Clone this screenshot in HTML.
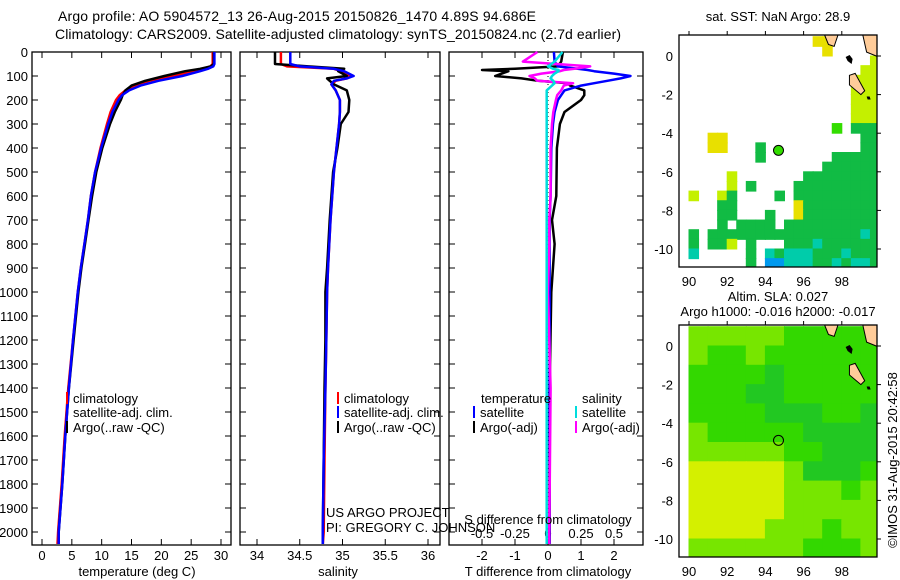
<!DOCTYPE html>
<html><head><meta charset="utf-8"><style>
html,body{margin:0;padding:0;background:#fff}
svg{display:block;font-family:"Liberation Sans",sans-serif}
text{fill:#000}
</style></head><body>
<svg id="s" width="900" height="580" viewBox="0 0 900 580">
<text x="297" y="21" font-size="14" text-anchor="middle" textLength="478">Argo profile: AO 5904572_13 26-Aug-2015 20150826_1470 4.89S 94.686E</text>
<text x="338" y="39" font-size="14" text-anchor="middle" textLength="566">Climatology: CARS2009. Satellite-adjusted climatology: synTS_20150824.nc (2.7d earlier)</text>
<g id="g"></g>
<text x="137" y="576" font-size="13" text-anchor="middle">temperature (deg C)</text>
<text x="338" y="576" font-size="13" text-anchor="middle">salinity</text>
<text x="548" y="576" font-size="13" text-anchor="middle">T difference from climatology</text>
<text x="548" y="524" font-size="13" text-anchor="middle">S difference from climatology</text>
<text x="326" y="517" font-size="13">US ARGO PROJECT</text>
<text x="326" y="532" font-size="13">PI: GREGORY C. JOHNSON</text>
<text x="778" y="21" font-size="13" text-anchor="middle">sat. SST: NaN Argo: 28.9</text>
<text x="778" y="301" font-size="13" text-anchor="middle">Altim. SLA: 0.027</text>
<text x="778" y="316" font-size="13" text-anchor="middle">Argo h1000: -0.016 h2000: -0.017</text>
<text x="0" y="0" font-size="13" text-anchor="middle" transform="translate(897,460) rotate(-90)">©IMOS 31-Aug-2015 20:42:58</text>
</svg>
<script>
// ---- profile data ----
const depthT=[0,50,60,70,80,100,120,140,160,180,200,250,300,400,500,600,700,800,900,1000,1200,1400,1600,1800,2000,2050];
const tClim=[28.6,28.6,28.2,27,25.5,22,18,15.5,14,13,12.4,11.5,10.9,9.8,8.9,8.2,7.7,7.1,6.5,6.0,5.2,4.4,3.8,3.3,2.7,2.6];
const tSat=[28.9,28.9,28.7,27.8,26.5,23.5,19.5,16.5,14.6,13.4,12.8,11.8,11.1,9.9,8.9,8.2,7.7,7.1,6.5,6.0,5.2,4.5,3.9,3.4,2.8,2.8];
const tArgo=[28.8,28.8,28.3,26.5,24,20.5,17.3,15,14,13.5,13.2,12.2,11.4,10.1,9.1,8.4,7.8,7.2,6.6,6.1,5.3,4.5,3.9,3.4,2.8,2.8];
const depthS=[0,50,60,70,80,100,110,120,135,160,200,250,300,400,500,700,900,1000,1200,1400,1700,2000,2050];
const sClim=[34.28,34.28,34.35,34.9,34.98,35.1,35.05,34.92,34.87,34.92,34.97,34.97,34.96,34.93,34.9,34.86,34.83,34.82,34.81,34.8,34.79,34.78,34.77];
const sSat=[34.39,34.39,34.5,34.9,35.02,35.13,35.05,34.9,34.87,34.92,34.97,34.97,34.96,34.93,34.9,34.86,34.83,34.82,34.81,34.8,34.78,34.77,34.77];
const sArgo=[34.21,34.21,34.6,35.02,34.95,35.05,34.82,34.85,34.9,35.05,35.08,35.07,34.98,34.94,34.89,34.85,34.82,34.8,34.8,34.79,34.78,34.77,34.77];
const depthD=[0,40,60,70,75,80,90,100,110,120,130,140,160,180,200,250,300,400,600,700,800,1000,1400,2000,2050];
const dTSat=[0.18,0.2,0.3,0.9,1.2,1.4,2.0,2.5,2.2,1.8,1.4,1.0,0.5,0.4,0.3,0.2,0.15,0.1,0.08,0.05,0.05,0.05,0.05,0.05,0.05];
const dTArgo=[0.45,0.4,0.3,-1.0,-2.0,-1.2,-1.4,-1.6,-0.8,-0.3,0.6,0.67,1.1,1.1,1.0,0.5,0.36,0.27,0.25,0.12,0.2,0.1,0.05,0.05,0.05];
const dSSat=[0.11,0.05,0,0.04,0.08,0.08,0.05,0.03,0.02,0.04,0.05,0.03,-0.01,-0.01,-0.01,-0.01,-0.01,-0.01,-0.01,-0.01,-0.01,-0.01,-0.01,-0.01,-0.01];
const dSArgo=[-0.08,-0.19,0.32,0.2,0.12,0.09,-0.05,-0.14,-0.1,-0.08,0.19,0.12,0.1,0.07,0.06,0.04,0.03,0.02,0.02,0.01,0.01,0.0,0.02,0.01,0.01];
const depthTicks=[0,100,200,300,400,500,600,700,800,900,1000,1100,1200,1300,1400,1500,1600,1700,1800,1900,2000];
const tTicks=[0,5,10,15,20,25,30];
const sTicks=[34,34.5,35,35.5,36];
const dTTicks=[-2,-1,0,1,2];
const dSTicks=[-0.5,-0.25,0,0.25,0.5];
// ---- map data ----
const lonTicks=[90,92,94,96,98];
const latTicks=[0,-2,-4,-6,-8,-10];
const sstRows=[
".............yy.....","..............y.....","...................l","..................ll",
".................lll",".................lll",".................lll",".................lll",
".................lll","...............G.ggg","..yy..............gg","..yy...g..........gg",
".......g.......ggggg","..............gggggg","....l.......gggggggg","....l.g....ggggggggg",
"l..lg....g.ggggggggg","...gg......ygggggggg","...gg...g..ygggggggg","...g.gggg.gggggggggg",
"g.ggggggggggggggggcg","g.ggl.g...gggcgggggg","c.....g.cgcccgggcggg","......g.bbcccggcgccg"];
const slaRows=[
"lllllggggg","lgglgggggg","ggggdggggg","gggddggggg","ggggdddggd","lgggggdddd",
"lllllggddd","yyyyyldddg","yyyyylllgl","yyyyylllll","yyyylllgll","llllllgggl"];
const NS="http://www.w3.org/2000/svg";
const G=document.getElementById('g');
function mk(tag,at,parent){const e=document.createElementNS(NS,tag);for(const k in at)e.setAttribute(k,at[k]);(parent||G).appendChild(e);return e;}
const Y0=52,Y1=545;
const yD=d=>Y0+d*0.24;
const xT=v=>42+v*5.967;
const xS=v=>257+(v-34)*85.5;
const xDT=v=>548+v*33;
const xDS=v=>548+v*132;
function panel(x0,x1,name,xs,ticks,withLabels){
  const r=mk('rect',{x:x0,y:Y0,width:x1-x0,height:Y1-Y0,fill:'none',stroke:'#000','stroke-width':1.3});
  
  
  depthTicks.forEach(d=>{
    mk('line',{x1:x0,x2:x0+6,y1:yD(d),y2:yD(d),stroke:'#000'});
    mk('line',{x1:x1-6,x2:x1,y1:yD(d),y2:yD(d),stroke:'#000'});
    if(withLabels){const t=mk('text',{x:28,y:yD(d)+5,'font-size':13,'text-anchor':'end'});t.textContent=d;
      
      }
  });
  ticks.forEach(v=>{
    mk('line',{x1:xs(v),x2:xs(v),y1:Y0,y2:Y0+6,stroke:'#000'});
    mk('line',{x1:xs(v),x2:xs(v),y1:Y1-6,y2:Y1,stroke:'#000'});
    const t=mk('text',{x:xs(v),y:560,'font-size':13,'text-anchor':'middle'});t.textContent=v;
    
    
  });
}
function line(ds,vs,xs,color,name,w){
  const p=ds.map((d,i)=>xs(vs[i]).toFixed(1)+','+yD(d).toFixed(1)).join(' ');
  const e=mk('polyline',{points:p,fill:'none',stroke:color,'stroke-width':w||2.5,'stroke-linejoin':'round'});
  
  
}
panel(32,231,'temperature-panel',xT,tTicks,true);
panel(240,440,'salinity-panel',xS,sTicks,false);
panel(449,643,'difference-panel',xDT,dTTicks,false);
dSTicks.forEach(v=>{const t=mk('text',{x:xDS(v),y:538,'font-size':13,'text-anchor':'middle'});t.textContent=v;
  
  });
mk('line',{x1:xDT(0),x2:xDT(0),y1:Y0,y2:Y1,stroke:'#000','stroke-dasharray':'1,3'});
line(depthT,tClim,xT,'#f00','temperature-climatology-line');
line(depthT,tArgo,xT,'#000','temperature-argo-line');
line(depthT,tSat,xT,'#00f','temperature-satellite-line');
line(depthS,sClim,xS,'#f00','salinity-climatology-line');
line(depthS,sArgo,xS,'#000','salinity-argo-line');
line(depthS,sSat,xS,'#00f','salinity-satellite-line');
line(depthD,dTArgo,xDT,'#000','t-diff-argo-line');
line(depthD,dTSat,xDT,'#00f','t-diff-satellite-line');
line(depthD,dSArgo,xDS,'#f0f','s-diff-argo-line');
line(depthD,dSSat,xDS,'#0dd','s-diff-satellite-line');
function legend(x,y,color,label){
  mk('rect',{x:x,y:y-11,width:2,height:12,fill:color});
  const t=mk('text',{x:x+7,y:y,'font-size':13});t.textContent=label;
  
  
}
legend(66,403,'#f00','climatology');legend(66,417,'#00f','satellite-adj. clim.');legend(66,432,'#000','Argo(..raw -QC)');
legend(337,403,'#f00','climatology');legend(337,417,'#00f','satellite-adj. clim.');legend(337,432,'#000','Argo(..raw -QC)');
{const t=mk('text',{x:481,y:403,'font-size':13});t.textContent='temperature';
 
 
 const u=mk('text',{x:582,y:403,'font-size':13});u.textContent='salinity';
 
 }
legend(473,417,'#00f','satellite');legend(473,432,'#000','Argo(-adj)');
legend(575,417,'#0dd','satellite');legend(575,432,'#f0f','Argo(-adj)');
// ---- maps ----
const mx=v=>689+(v-90)*19.1;
function mapFrame(y0,y1,lat0y,name){
  const my=v=>lat0y-v*19.3;
  return my;
}
const sstCol={y:'#e8e000',l:'#c4f000',g:'#11bb44',G:'#33dd00',c:'#00ccaa',b:'#0099ee'};
const slaCol={y:'#d4f000',l:'#77e600',g:'#33d800',d:'#22c822'};
function drawMap(y0,y1,lat0y,rows,cols,colors,name){
  const my=v=>lat0y-v*19.3;
  const clip='c'+name;
  const cp=mk('clipPath',{id:clip});mk('rect',{x:679,y:y0,width:198,height:y1-y0},cp);
  const g=mk('g',{'clip-path':'url(#'+clip+')'});
  
  
  const step=10/cols;
  rows.forEach((r,i)=>{[...r].forEach((c,j)=>{if(colors[c])mk('rect',{x:mx(90+j*step)-0.5,y:my(1-i*step)-0.5,width:step*19.1+1,height:step*19.3+1,fill:colors[c]},g);});});
  // land
  const land='M'+mx(99.1)+','+y0+' L'+mx(99.3)+','+my(0.2)+' L'+mx(99.8)+','+my(0)+' L'+mx(100)+','+my(-0.1)+' L'+mx(100)+','+y0+'Z '+
    'M'+mx(97.1)+','+y0+' L'+mx(97.3)+','+my(0.6)+' L'+mx(97.6)+','+my(0.5)+' L'+mx(97.8)+','+y0+'Z '+
    'M'+mx(98.4)+','+my(-1)+' L'+mx(98.7)+','+my(-0.9)+' L'+mx(99.2)+','+my(-1.8)+' L'+mx(99)+','+my(-2)+' L'+mx(98.4)+','+my(-1.5)+'Z';
  mk('path',{d:land,fill:'#ffcc99',stroke:'#000','stroke-width':1},g);
  mk('path',{d:'M'+mx(98.2)+','+my(-0.05)+' l4,-2 l3,4 l-1,5 l-4,-3Z M'+mx(99.3)+','+my(-2.1)+' l3,0 l1,3 l-3,0Z',fill:'#000'},g);
  const f=mk('rect',{x:679,y:y0,width:198,height:y1-y0,fill:'none',stroke:'#000','stroke-width':1.3});
  
  
  lonTicks.forEach(v=>{mk('line',{x1:mx(v),x2:mx(v),y1:y0-4,y2:y0,stroke:'#000'});
    const t=mk('text',{x:mx(v),y:y1+19,'font-size':13,'text-anchor':'middle'});t.textContent=v;
    
    });
  latTicks.forEach(v=>{mk('line',{x1:877,x2:881,y1:my(v),y2:my(v),stroke:'#000'});
    const t=mk('text',{x:673,y:my(v)+5,'font-size':13,'text-anchor':'end'});t.textContent=v;
    
    });
  const m=mk('circle',{cx:mx(94.686),cy:my(-4.89),r:5,fill:name==='sst-map'?'#33dd00':'none',stroke:'#000','stroke-width':1});
  
  
}
drawMap(35,267,56,sstRows,20,sstCol,'sst-map');
drawMap(325,557,346,slaRows,10,slaCol,'sla-map');
</script>
</body></html>
